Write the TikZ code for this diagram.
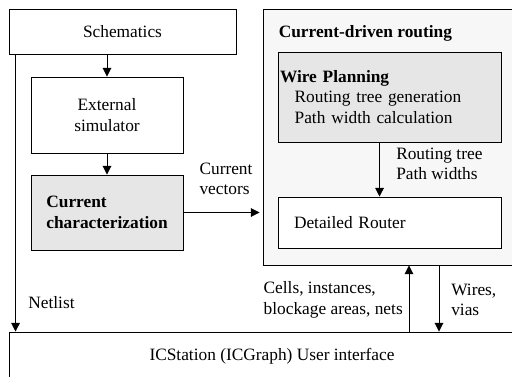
\documentclass[tikz,border=0pt]{standalone}
\usepackage{fontspec}
\setmainfont{Liberation Serif}
\usetikzlibrary{arrows.meta,calc,positioning}
\definecolor{boxgray}{HTML}{E6E6E6}
\definecolor{panelgray}{HTML}{F7F7F7}
\def\pxu{0.75pt}

\begin{document}
\begin{tikzpicture}[x=0.75pt,y=-0.75pt,
    font=\fontsize{13}{15.5}\selectfont,
    box/.style={draw,line width=0.7pt,fill=white,inner sep=0pt},
    arr/.style={line width=0.7pt,-{Triangle[width=6.5pt,length=6.5pt]}},
    lbl/.style={align=left,inner sep=0pt}]
    \useasboundingbox (0,0) rectangle (512,376);
    \clip (0,0) rectangle (512,376);
    % left column
    \node[box,minimum width=227*\pxu,minimum height=45*\pxu] (schem) at (122.5,31.5) {Schematics};
    \node[box,minimum width=152*\pxu,minimum height=76*\pxu,align=center] (extsim) at (107,115) {External\\simulator};
    \node[box,fill=boxgray,minimum width=152*\pxu,minimum height=75*\pxu,align=left] (curchar) at (107,212.5) {\bfseries Current\\\bfseries characterization};
    % routing panel
    \node[box,fill=panelgray,minimum width=272*\pxu,minimum height=256*\pxu] (route) at (399,137) {};
    \node[lbl,anchor=base west] (routetitle) at ($(route.north west)+(16,29)$) {\bfseries Current-driven routing};
    \node[box,fill=boxgray,minimum width=223*\pxu,minimum height=90*\pxu,text width=219*\pxu,inner xsep=2*\pxu,align=left] (wp) at (389.5,97)
        {\textbf{Wire Planning}\\\hspace*{11pt}Routing tree generation\\\hspace*{11pt}Path width calculation};
    \node[box,minimum width=223*\pxu,minimum height=51*\pxu,text width=191*\pxu,inner xsep=16*\pxu,align=left] (dr) at (389.5,222.5) {Detailed Router};
    % user interface
    \node[box,minimum width=526*\pxu,minimum height=48*\pxu] (ui) at (272,356) {ICStation (ICGraph) User interface};
    % connectors
    \draw[arr] (extsim.north |- schem.south) -- (extsim.north);
    \draw[arr] (extsim.south) -- (curchar.north);
    \draw[arr,shorten >=3*\pxu] (curchar.east) -- (curchar.east -| route.west);
    \node[lbl] (cvlbl) at (226,179) {Current\\vectors};
    \coordinate (nltop) at ($(schem.south west)+(7,0)$);
    \draw[arr] (nltop) -- (nltop |- ui.north);
    \node[lbl] (nllbl) at (51.5,303) {Netlist};
    \coordinate (wpx) at ($(wp.south west)+(102,0)$);
    \draw[arr] (wpx) -- (wpx |- dr.north);
    \node[lbl,anchor=west] (rtlbl) at (396,164) {Routing tree\\Path widths};
    \coordinate (upx) at (409,0);
    \coordinate (dnx) at (439,0);
    \draw[arr] (upx |- ui.north) -- (upx |- route.south);
    \draw[arr] (dnx |- route.south) -- (dnx |- ui.north);
    \node[lbl,anchor=east] (cilbl) at (403,300) {Cells, instances,\\blockage areas, nets};
    \node[lbl,anchor=west] (wvlbl) at (451,300) {Wires,\\vias};
\end{tikzpicture}
\end{document}
